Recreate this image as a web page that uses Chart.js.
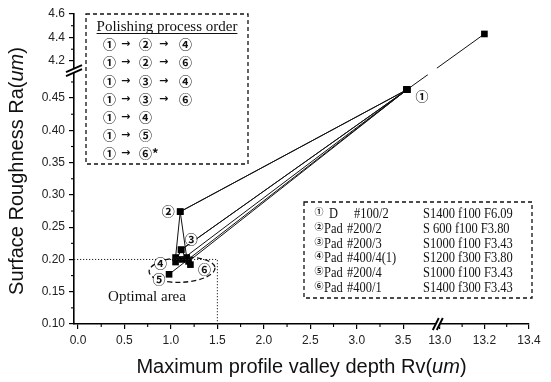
<!DOCTYPE html>
<html><head><meta charset="utf-8">
<script src="https://cdn.jsdelivr.net/npm/chart.js@4.4.0/dist/chart.umd.min.js"></script>
<style>html,body{margin:0;padding:0;background:#fff;}#wrap{width:551px;height:382px;}</style>
</head><body><div id="wrap"><canvas id="c" width="551" height="382"></canvas></div>
<script>
// ---------------- data ----------------
const startRv = [13.2];
const startRa = [4.43];
const pathNames = ['① → ② → ④', '① → ② → ⑥', '① → ③ → ④', '① → ③ → ⑥', '① → ④', '① → ⑤', '① → ⑥*'];
const pathRv = [
  [3.54, 1.10, 1.05],
  [3.54, 1.10, 1.17],
  [3.54, 1.11, 1.05],
  [3.54, 1.11, 1.21],
  [3.54, 1.12],
  [3.54, 0.98],
  [3.54, 1.19]
];
const pathRa = [
  [0.463, 0.274, 0.203],
  [0.463, 0.274, 0.203],
  [0.463, 0.215, 0.196],
  [0.463, 0.215, 0.192],
  [0.463, 0.200],
  [0.463, 0.177],
  [0.463, 0.197]
];
const xTicksLow = [0.0, 0.5, 1.0, 1.5, 2.0, 2.5, 3.0, 3.5];
const xTicksHigh = [13.0, 13.2, 13.4];
const xMinor = [0.25, 0.75, 1.25, 1.75, 2.25, 2.75, 3.25, 13.1, 13.3];
const yTicksLow = [0.10, 0.15, 0.20, 0.25, 0.30, 0.35, 0.40, 0.45];
const yTicksHigh = [4.2, 4.4, 4.6];
const yMinor = [0.125, 0.175, 0.225, 0.275, 0.325, 0.375, 0.425, 0.475, 4.3, 4.5];
const optimalRv = [1.5];
const optimalRa = [0.20];
const clusterRv = [1.12];
const clusterRa = [0.184];
const stepLabels = ['①', '②', '③', '④', '⑤', '⑥'];
const padTool = ['D', 'Pad', 'Pad', 'Pad', 'Pad', 'Pad'];
const padGrit = ['#100/2', '#200/2', '#200/3', '#400/4(1)', '#200/4', '#400/1'];
const padCond = ['S1400 f100 F6.09', 'S 600 f100 F3.80', 'S1000 f100 F3.43', 'S1200 f300 F3.80', 'S1000 f100 F3.43', 'S1400 f300 F3.43'];
const boxTitle = 'Polishing process order';
const areaLabel = 'Optimal area';
const xTitleParts = ['Maximum profile valley depth Rv(', 'um', ')'];
const yTitleParts = ['Surface Roughness Ra(', 'um', ')'];

// ---------------- broken-axis scale ----------------
const SEG = {
  x: [{min: -0.043, max: 3.85, from: 0, to: 0.795}, {min: 13.0, max: 13.4, from: 0.804, to: 1}],
  y: [{min: 0.10, max: 0.49, from: 0, to: 0.812}, {min: 4.13, max: 4.6, from: 0.822, to: 1}]
};
const LinearScale = Chart.LinearScale || Chart.registry.getScale('linear');
class BrokenLinearScale extends LinearScale {
  static id = 'brokenLinear';
  static defaults = LinearScale.defaults;
  _dec(v) {
    const s = SEG[this.axis];
    const lin = (g, v) => g.from + (v - g.min) / (g.max - g.min) * (g.to - g.from);
    if (v <= s[0].max) return lin(s[0], v);
    for (let i = 1; i < s.length; i++) {
      const a = s[i - 1], b = s[i];
      if (v < b.min) return a.to + (v - a.max) / (b.min - a.max) * (b.from - a.to);
      if (v <= b.max || i === s.length - 1) return lin(b, v);
    }
    return 1;
  }
  getPixelForValue(value) {
    if (value === null || value === undefined || isNaN(value)) return NaN;
    return this.getPixelForDecimal(this._dec(+value));
  }
  getValueForPixel(pixel) {
    const d = this.getDecimalForPixel(pixel);
    const s = SEG[this.axis];
    for (let i = 0; i < s.length; i++) {
      const g = s[i];
      if (d <= g.to || i === s.length - 1) {
        if (i > 0 && d < g.from) { const a = s[i - 1]; return a.max + (d - a.to) / (g.from - a.to) * (g.min - a.max); }
        return g.min + (d - g.from) / (g.to - g.from) * (g.max - g.min);
      }
    }
  }
}
Chart.register(BrokenLinearScale);

// ---------------- datasets ----------------
const lineStyle = {
  showLine: true, borderColor: '#111', borderWidth: 1, tension: 0,
  pointStyle: 'rect', pointRadius: 4.7, pointBackgroundColor: '#000', pointBorderColor: '#000', pointBorderWidth: 0,
  clip: false
};
const datasets = [];
datasets.push(Object.assign({label: 'as received', data: [{x: startRv[0], y: startRa[0]}, {x: pathRv[0][0], y: pathRa[0][0]}]}, lineStyle));
pathRv.forEach((xs, i) => {
  datasets.push(Object.assign({label: pathNames[i], data: xs.map((x, j) => ({x: x, y: pathRa[i][j]}))}, lineStyle));
});

// label anchors: [step index, path index, point index, dx, dy]
const labelAnchors = [[0, 0, 0, 15, 6], [1, 0, 1, -12, -1], [2, 2, 1, 10, -11], [3, 0, 2, -15, 6], [4, 5, 1, -10, 5], [5, 3, 2, 14, 4]];

const SANS = '"Liberation Sans", Arial, sans-serif';
const SERIF = '"Liberation Serif", "Times New Roman", serif';
const CIRC = '"Noto Sans CJK JP", "DejaVu Sans", sans-serif';

function mixedWidth(ctx, parts, size) {
  let w = 0;
  parts.forEach((p, i) => { ctx.font = (i === 1 ? 'italic ' : '') + size + 'px ' + SANS; w += ctx.measureText(p).width; });
  return w;
}
function drawMixed(ctx, parts, size) {
  const w = mixedWidth(ctx, parts, size);
  let x = -w / 2;
  ctx.textAlign = 'left'; ctx.textBaseline = 'middle';
  parts.forEach((p, i) => { ctx.font = (i === 1 ? 'italic ' : '') + size + 'px ' + SANS; ctx.fillText(p, x, 0); x += ctx.measureText(p).width; });
}
function condensed(ctx, text, x, y, sx) {
  ctx.save(); ctx.translate(x, y); ctx.scale(sx, 1); ctx.fillText(text, 0, 0); ctx.restore();
}

const decor = {
  id: 'decor',
  afterDraw(chart) {
    const {ctx, chartArea: ca, scales: {x, y}} = chart;
    const ln = (a, b, c, d) => { ctx.beginPath(); ctx.moveTo(a, b); ctx.lineTo(c, d); ctx.stroke(); };
    ctx.save();
    ctx.fillStyle = '#111'; ctx.strokeStyle = '#000';
    // minor ticks
    ctx.lineWidth = 1.1;
    xMinor.forEach(v => { const p = x.getPixelForValue(v); ln(p, ca.bottom, p, ca.bottom + 3); });
    yMinor.forEach(v => { const p = y.getPixelForValue(v); ln(ca.left, p, ca.left - 3, p); });

    // axis breaks
    const xb = (x.getPixelForValue(SEG.x[0].max) + x.getPixelForValue(SEG.x[1].min)) / 2;
    const yb = (y.getPixelForValue(SEG.y[0].max) + y.getPixelForValue(SEG.y[1].min)) / 2;
    ctx.fillStyle = '#fff';
    ctx.fillRect(xb - 2, ca.bottom - 3, 4, 6);
    ctx.fillRect(ca.left - 3, yb - 2, 6, 4);
    ctx.strokeStyle = '#000'; ctx.lineWidth = 1.9;
    [-2, 2].forEach(o => { ln(xb + o - 3, ca.bottom + 6, xb + o + 3, ca.bottom - 6); });
    [-2, 2].forEach(o => { ln(ca.left - 8, yb + o + 3.5, ca.left + 8, yb + o - 3.5); });

    // gap in the line crossing the breaks
    const p0 = {x: x.getPixelForValue(startRv[0]), y: y.getPixelForValue(startRa[0])};
    const p1 = {x: x.getPixelForValue(pathRv[0][0]), y: y.getPixelForValue(pathRa[0][0])};
    const at = px => ({x: px, y: p1.y + (px - p1.x) / (p0.x - p1.x) * (p0.y - p1.y)});
    const g0 = at(xb - 10), g1 = at(xb - 1);
    ctx.strokeStyle = '#fff'; ctx.lineWidth = 3; ln(g0.x, g0.y, g1.x, g1.y);

    // optimal area
    ctx.strokeStyle = '#222'; ctx.lineWidth = 1; ctx.setLineDash([1.2, 1.8]);
    const ox = x.getPixelForValue(optimalRv[0]), oy = y.getPixelForValue(optimalRa[0]);
    ctx.beginPath(); ctx.moveTo(ca.left, oy); ctx.lineTo(ox, oy); ctx.lineTo(ox, ca.bottom); ctx.stroke();
    // dashed ellipse around the cluster
    ctx.setLineDash([5, 3]); ctx.lineWidth = 1.3; ctx.strokeStyle = '#111';
    ctx.beginPath();
    ctx.ellipse(x.getPixelForValue(clusterRv[0]), y.getPixelForValue(clusterRa[0]), 33, 12.5, -0.06, 0, Math.PI * 2);
    ctx.stroke();
    ctx.setLineDash([]);
    ctx.fillStyle = '#111';
    ctx.font = '15px ' + SERIF; ctx.textAlign = 'center'; ctx.textBaseline = 'middle';
    ctx.fillText(areaLabel, 147, 297);

    // point labels
    ctx.font = 'bold 13px ' + CIRC;
    labelAnchors.forEach(a => {
      const px = x.getPixelForValue(pathRv[a[1]][a[2]]) + a[3];
      const py = y.getPixelForValue(pathRa[a[1]][a[2]]) + a[4];
      ctx.fillStyle = '#fff'; ctx.beginPath(); ctx.arc(px, py, 5.5, 0, Math.PI * 2); ctx.fill();
      ctx.fillStyle = '#111'; ctx.fillText(stepLabels[a[0]], px, py);
    });

    // process order box
    ctx.strokeStyle = '#111'; ctx.lineWidth = 1.3; ctx.setLineDash([4, 3]);
    ctx.fillStyle = '#fff'; ctx.fillRect(86, 14, 162, 150);
    ctx.strokeRect(86, 14, 162, 150);
    ctx.setLineDash([]);
    ctx.fillStyle = '#111';
    ctx.font = '15px ' + SERIF; ctx.textAlign = 'center'; ctx.textBaseline = 'alphabetic';
    ctx.fillText(boxTitle, 167, 31);
    const tw = ctx.measureText(boxTitle).width;
    ctx.lineWidth = 1; ln(167 - tw / 2, 33.5, 167 + tw / 2, 33.5);
    const colX = [103, 121, 139, 159, 179];
    ctx.textAlign = 'left'; ctx.textBaseline = 'middle';
    pathNames.forEach((name, r) => {
      const yy = 44.3 + r * 18.2;
      name.split(' ').forEach((tok, c) => {
        ctx.font = (tok === '→' ? 'bold 11px "DejaVu Sans", sans-serif' : 'bold 13px ' + CIRC);
        ctx.fillText(tok, colX[c], yy);
      });
    });

    // condition legend box
    ctx.lineWidth = 1.3; ctx.setLineDash([4, 3]);
    ctx.fillStyle = '#fff'; ctx.fillRect(304, 202, 228, 96);
    ctx.strokeRect(304, 202, 228, 96);
    ctx.setLineDash([]);
    ctx.fillStyle = '#111'; ctx.textBaseline = 'alphabetic'; ctx.textAlign = 'left';
    padTool.forEach((t, r) => {
      const by = 218 + r * 14.8;
      ctx.font = 'bold 9px ' + CIRC; ctx.fillText(stepLabels[r], 314.5, by - 3);
      ctx.font = '14.5px ' + SERIF;
      condensed(ctx, t, t === 'D' ? 329 : 324, by, 0.86);
      condensed(ctx, padGrit[r], t === 'D' ? 354 : 347, by, 0.86);
      condensed(ctx, padCond[r], 423, by, 0.86);
    });

    // axis titles
    ctx.fillStyle = '#111';
    ctx.save(); ctx.translate((ca.left + ca.right) / 2, 367); drawMixed(ctx, xTitleParts, 20); ctx.restore();
    ctx.save(); ctx.translate(17, (ca.top + ca.bottom) / 2 + 2); ctx.rotate(-Math.PI / 2); drawMixed(ctx, yTitleParts, 20); ctx.restore();
    ctx.restore();
  }
};

const tickFont = {family: SANS, size: 12};
new Chart(document.getElementById('c'), {
  type: 'scatter',
  data: {datasets: datasets},
  options: {
    responsive: false, devicePixelRatio: 1, animation: false, events: [],
    layout: {padding: {top: 14, right: 22, left: 0, bottom: 0}},
    plugins: {legend: {display: false}, tooltip: {enabled: false}},
    scales: {
      x: {
        type: 'brokenLinear', min: SEG.x[0].min, max: SEG.x[1].max, bounds: 'data',
        afterBuildTicks: s => { s.ticks = xTicksLow.concat(xTicksHigh).map(v => ({value: v})); },
        afterFit: s => { s.height = 58; },
        ticks: {autoSkip: false, maxRotation: 0, padding: 4, font: tickFont, color: '#222', callback: v => Number(v).toFixed(1)},
        grid: {drawOnChartArea: false, drawTicks: true, tickLength: 5, color: '#000', lineWidth: 1.2},
        border: {display: true, color: '#000', width: 1.6}
      },
      y: {
        type: 'brokenLinear', min: SEG.y[0].min, max: SEG.y[1].max, bounds: 'data',
        afterBuildTicks: s => { s.ticks = yTicksLow.concat(yTicksHigh).map(v => ({value: v})); },
        afterFit: s => { s.width = 74; },
        ticks: {autoSkip: false, padding: 4, font: tickFont, color: '#222', callback: v => (v >= 1 ? Number(v).toFixed(1) : Number(v).toFixed(2))},
        grid: {drawOnChartArea: false, drawTicks: true, tickLength: 5, color: '#000', lineWidth: 1.2},
        border: {display: true, color: '#000', width: 1.6}
      }
    }
  },
  plugins: [decor]
});
</script></body></html>
